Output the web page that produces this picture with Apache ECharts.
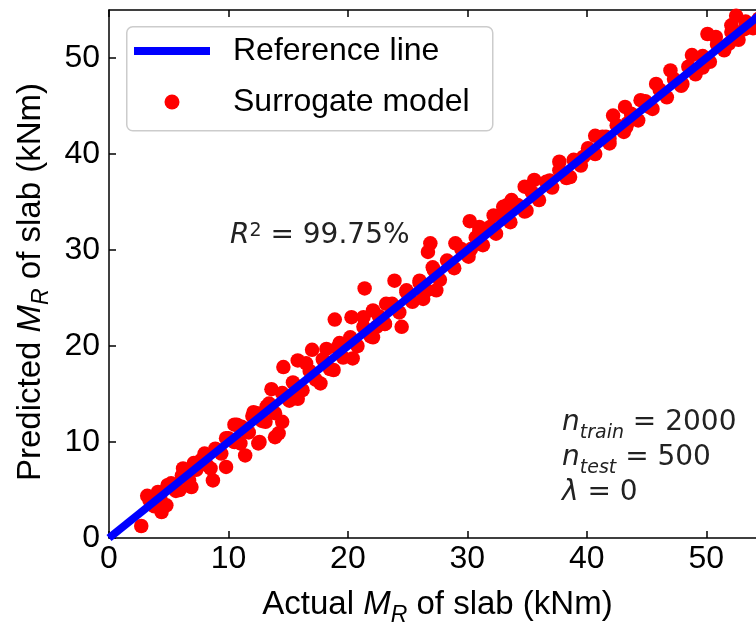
<!DOCTYPE html>
<html>
<head>
<meta charset="utf-8">
<script src="https://cdn.jsdelivr.net/npm/echarts@6/dist/echarts.min.js"></script>
<style>
html,body{margin:0;padding:0;background:#fff;}
#chart{width:756px;height:622px;}
</style>
</head>
<body>
<div id="chart"></div>
<script>
// ---- data ----
const axisMin = 0;
const axisMax = 55;
const tickStep = 10;
const refX = [0, 55];
const refY = [0, 55];
// Surrogate model points: actual (x) and predicted (y), kNm
const actual = [
 2.7,3.2,4.1,4.4,3.8,4.8,5.2,5.9,6.2,7.1,6.9,8.0,8.7,8.5,9.8,9.0,10.0,10.7,11.0,11.4,12.5,11.5,12.4,13.1,13.2,
 21.4,18.9,20.3,21.3,17.0,15.8,14.6,16.5,13.6,14.2,12.6,12.1,10.5,14.5,15.8,17.7,18.8,20.4,22.1,22.4,23.1,19.3,18.2,13.9,
 30.2,26.9,26.7,23.9,24.5,24.9,26.0,27.4,27.1,28.5,29.0,31.0,32.2,33.3,23.2,22.1,22.7,30.3,26.3,
 33.7,34.8,35.6,34.95,37.7,36.9,38.6,39.7,40.7,41.6,42.2,43.2,43.3,31.0,33.0,
 41.9,43.4,44.5,45.2,45.8,47.0,48.0,48.8,49.7,50.1,50.8,52.1,52.5,53.2,51.9,53.3,
 3.4,4.3,4.9,5.6,6.1,6.7,7.3,7.7,8.2,8.9,9.4,9.8,10.5,11.1,11.7,12.0,12.8,13.4,13.9,14.5,15.1,15.4,16.2,16.8,17.3,17.9,
 18.5,19.1,19.6,20.2,20.8,21.3,21.9,22.6,23.1,23.7,24.3,24.9,25.4,26.0,26.6,27.2,27.7,28.3,28.9,29.5,30.1,30.7,31.3,31.9,
 32.4,33.0,33.6,34.2,34.8,35.4,36.0,36.6,37.1,37.7,38.3,38.9,39.5,40.1,40.7,41.3,41.9,42.5,43.1,43.7,44.3,44.9,45.5,46.1,
 46.7,47.3,47.9,48.5,49.1,49.7,50.3,50.9,51.5,52.1,52.7,53.3,53.9,54.4
];
const predicted = [
 1.25,4.4,4.8,2.7,3.3,3.4,5.7,5.0,7.25,7.8,5.3,8.8,6.0,7.25,7.4,9.2,10.4,11.8,9.85,8.6,9.85,11.1,13.0,12.1,13.7,
 26.0,22.75,23.0,23.0,19.6,18.5,17.8,18.2,15.5,10.9,10.0,13.1,11.8,12.1,14.5,16.1,17.5,18.7,20.9,22.0,22.3,20.3,19.7,10.5,
 33.0,30.7,29.8,26.8,22.0,25.8,26.8,25.8,28.2,28.6,30.7,32.0,33.6,34.65,24.4,23.7,22.5,30.1,24.9,
 35.2,36.6,37.3,34.1,39.2,37.25,37.6,39.7,41.9,41.8,44.0,44.9,42.8,32.4,34.5,
 41.6,43.2,45.6,44.9,47.3,48.7,47.3,50.3,49.0,52.5,52.2,53.4,54.4,53.0,51.5,53.7,
 3.9,4.1,5.5,4.9,6.5,6.0,7.1,8.1,7.6,9.3,8.8,10.4,10.0,11.6,11.0,12.7,12.2,14.0,13.0,15.1,14.3,16.2,15.4,17.4,16.5,18.6,
 17.6,19.8,18.8,20.9,20.0,22.0,21.0,23.1,22.3,24.4,23.5,25.6,24.6,26.6,25.8,27.9,26.9,28.9,28.1,30.1,29.3,31.3,30.5,32.4,
 31.7,33.5,32.9,34.7,34.0,36.0,35.2,37.1,36.5,38.3,37.5,39.4,38.8,40.6,40.0,41.8,41.1,43.0,42.3,44.2,43.5,45.5,44.7,46.7,
 45.9,47.8,47.1,49.1,48.3,50.2,49.6,51.4,50.8,52.7,51.9,53.8,53.1,54.1
];

const scatterData = actual.map((v, i) => [v, predicted[i]]);
const refData = refX.map((v, i) => [v, refY[i]]);

const chart = echarts.init(document.getElementById('chart'), null, {renderer: 'canvas'});
const SANS = 'Liberation Sans';
const MATH = 'DejaVu Sans';
const axisLineStyle = {color: '#000', width: 1.5};
const nameRich = {
  n: {fontSize: 33, fontFamily: SANS, color: '#000', lineHeight: 37, verticalAlign: 'top'},
  i: {fontSize: 33, fontFamily: SANS, fontStyle: 'italic', color: '#000', lineHeight: 37, verticalAlign: 'top'},
  s: {fontSize: 23, fontFamily: SANS, fontStyle: 'italic', color: '#000', lineHeight: 23, verticalAlign: 'top', padding: [16, 0, 0, 0]}
};

const option = {
  backgroundColor: '#fff',
  animation: false,
  grid: {left: 109, top: 10, right: -10, bottom: 84, containLabel: false, outerBoundsMode: 'none'},
  xAxis: [{
    type: 'value', min: axisMin, max: axisMax, interval: tickStep, position: 'bottom',
    axisLine: {show: true, onZero: false, lineStyle: axisLineStyle},
    axisTick: {show: true, inside: true, length: 7, lineStyle: axisLineStyle},
    axisLabel: {fontSize: 32, fontFamily: SANS, color: '#000', margin: 5, showMaxLabel: false},
    splitLine: {show: false},
    name: '{n|Actual }{i|M}{s|R}{n| of slab (kNm)}',
    nameLocation: 'middle', nameGap: 50,
    nameTextStyle: {rich: nameRich}
  }, {
    type: 'value', min: axisMin, max: axisMax, interval: tickStep, position: 'top',
    axisLine: {show: true, onZero: false, lineStyle: axisLineStyle},
    axisTick: {show: true, inside: true, length: 7, lineStyle: axisLineStyle},
    axisLabel: {show: false},
    splitLine: {show: false}
  }],
  yAxis: [{
    type: 'value', min: axisMin, max: axisMax, interval: tickStep, position: 'left',
    axisLine: {show: true, onZero: false, lineStyle: axisLineStyle},
    axisTick: {show: true, inside: true, length: 7, lineStyle: axisLineStyle},
    axisLabel: {fontSize: 32, fontFamily: SANS, color: '#000', margin: 9, showMaxLabel: false},
    splitLine: {show: false},
    name: '{n|Predicted }{i|M}{s|R}{n| of slab (kNm)}',
    nameLocation: 'middle', nameGap: 54, nameRotate: 90,
    nameTextStyle: {rich: nameRich, padding: [0, 16, 0, 0]}
  }],
  legend: [{
    data: [{name: 'Reference line', icon: 'rect'}],
    left: 134, top: 35, padding: 0, itemWidth: 76, itemHeight: 8, selectedMode: false, z: 5,
    textStyle: {fontSize: 32, fontFamily: SANS, color: '#000', padding: [0, 0, 0, 18]}
  }, {
    data: [{name: 'Surrogate model', icon: 'circle'}],
    left: 164.5, top: 86, padding: 0, itemWidth: 76, itemHeight: 15, selectedMode: false, z: 5,
    textStyle: {fontSize: 32, fontFamily: SANS, color: '#000', padding: [0, 0, 0, 18]}
  }],
  graphic: [{
    type: 'rect', z: 1, left: 126, top: 26,
    shape: {width: 366, height: 104, r: 6},
    style: {fill: 'rgba(255,255,255,0.85)', stroke: '#cccccc', lineWidth: 1.5}
  }, {
    type: 'text', z: 5, left: 230, top: 222,
    style: {
      text: '{i|R}{p|2}{n| = 99.75%}',
      rich: {
        n: {fontSize: 28, fontFamily: MATH, fill: '#222', lineHeight: 32, verticalAlign: 'top'},
        i: {fontSize: 28, fontFamily: MATH, fontStyle: 'italic', fill: '#222', lineHeight: 32, verticalAlign: 'top'},
        p: {fontSize: 19, fontFamily: MATH, fill: '#222', lineHeight: 17, verticalAlign: 'top'}
      }
    }
  }, {
    type: 'text', z: 5, left: 562, top: 409,
    style: {
      text: '{i|n}{s|train}{n| = 2000}\n{i|n}{s|test}{n| = 500}\n{i|λ}{n| = 0}',
      rich: {
        n: {fontSize: 28, fontFamily: MATH, fill: '#222', lineHeight: 35, verticalAlign: 'top'},
        i: {fontSize: 28, fontFamily: MATH, fontStyle: 'italic', fill: '#222', lineHeight: 35, verticalAlign: 'top'},
        s: {fontSize: 19, fontFamily: MATH, fontStyle: 'italic', fill: '#222', lineHeight: 22, verticalAlign: 'top', padding: [15, 0, 0, 0]}
      }
    }
  }],
  series: [{
    name: 'Surrogate model', type: 'scatter', data: scatterData,
    symbol: 'circle', symbolSize: 14.5, z: 2,
    itemStyle: {color: '#ff0000', opacity: 1},
    emphasis: {disabled: true}
  }, {
    name: 'Reference line', type: 'line', data: refData,
    symbol: 'none', z: 3, color: '#0000ff',
    lineStyle: {color: '#0000ff', width: 8},
    itemStyle: {color: '#0000ff'},
    emphasis: {disabled: true}
  }]
};
chart.setOption(option);
</script>
</body>
</html>
